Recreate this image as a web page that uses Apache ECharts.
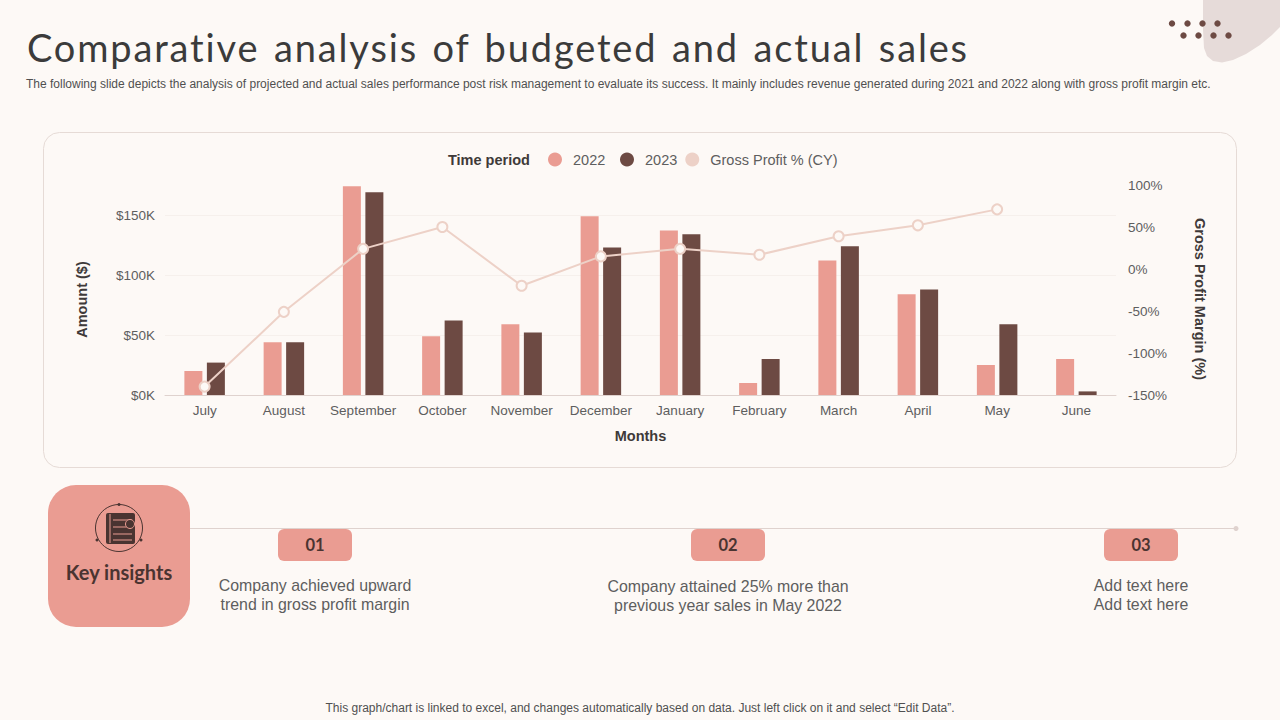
<!DOCTYPE html>
<html><head><meta charset="utf-8">
<style>html,body{margin:0;padding:0;background:#FDF9F6}#c{width:1280px;height:720px}
#t{position:absolute;left:27px;top:24px;margin:0;font:400 38px/46px Lato,sans-serif;color:#3B3B3B;letter-spacing:1.85px;word-spacing:3px;white-space:nowrap;font-variant-ligatures:none;z-index:2}</style>
<script src="https://cdn.jsdelivr.net/npm/echarts@6/dist/echarts.min.js"></script>
</head><body><h1 id="t">Comparative analysis of budgeted and actual sales</h1><div id="c"></div>
<script>
const months = ['July','August','September','October','November','December','January','February','March','April','May','June'];
const sales2022 = [20,44,174,49,59,149,137,10,112,84,25,30];
const sales2023 = [27,44,169,62,52,123,134,30,124,88,59,3];
const grossProfit = [-140,-51,24,50,-20,15,24,17,39,52,71,null];

const PINK='#EA9C92', DARK='#6D4A43', PEACH='#EDD1C7', TXT='#5E5E5E', HEAD='#3F3A39', LINE='#DFD2CE';
const SANS='"Liberation Sans",Arial,sans-serif';
const text=(x,y,t,size,o={})=>({type:'text',x,y,z:5,style:Object.assign({text:t,fontSize:size,fontFamily:SANS,fill:TXT,textAlign:'left',textVerticalAlign:'middle'},o)});
const rr=(x,y,w,h,r,o)=>({type:'rect',z:o.z||1,shape:{x,y,width:w,height:h,r},style:o});
const dot=(x,y,r,fill)=>({type:'circle',z:2,shape:{cx:x,cy:y,r},style:{fill}});
const INK='#4A3431';

const graphics=[
 {type:'polygon',z:0,shape:{points:[[1203,0],[1203,30],[1204,48],[1207,56],[1213,61],[1222,62.5],[1233,60],[1246,54],[1260,45],[1272,35],[1280,27],[1280,0]]},style:{fill:'#E6DBD9'}},
 ...[1172,1187.5,1202.5,1217.5].map(x=>dot(x,23.5,3.2,DARK)),
 ...[1183.5,1198.5,1213.5,1228.5].map(x=>dot(x,35.5,3.2,DARK)),
 text(26,84,'The following slide depicts the analysis of projected and actual sales performance post risk management to evaluate its success. It mainly includes revenue generated during 2021 and 2022 along with gross profit margin etc.',12,{fill:'#505050'}),
 rr(43.5,132.5,1193,335,16,{fill:'none',stroke:'#E6DBD6',lineWidth:1,z:0}),
 text(448,160,'Time period',14.5,{fontWeight:'bold',fill:HEAD}),
 {type:'line',z:1,shape:{x1:190,y1:528.5,x2:1236,y2:528.5},style:{stroke:LINE,lineWidth:1}},
 dot(1236,528.5,2.5,LINE),
 rr(48,485,142,142,28,{fill:PINK,z:2}),
 {type:'circle',z:3,shape:{cx:119,cy:528,r:23.5},style:{fill:'none',stroke:INK,lineWidth:1}},
 ...[[119,504.5],[97,540],[141,540]].map(([x,y])=>({type:'circle',z:3,shape:{cx:x,cy:y,r:1.5},style:{fill:INK}})),
 rr(106,513,29,31,2,{fill:INK,z:3}),
 {type:'line',z:4,shape:{x1:110,y1:514,x2:110,y2:543},style:{stroke:PINK,lineWidth:1}},
 ...[520,527,534,540].map(y=>({type:'line',z:4,shape:{x1:113,y1:y,x2:132,y2:y},style:{stroke:PINK,lineWidth:1}})),
 {type:'circle',z:5,shape:{cx:130,cy:524,r:4.5},style:{fill:INK,stroke:PINK,lineWidth:1}},
 text(119,572,'Key insights',20,{fontFamily:'Lato,sans-serif',fontWeight:'bold',fill:INK,textAlign:'center'}),
 ...[[278,'01'],[691,'02'],[1104,'03']].flatMap(([x,t])=>[
   rr(x,529,74,32,6,{fill:PINK,z:2}),
   text(x+37,544.5,t,16.5,{fontFamily:'Lato,sans-serif',fontWeight:'bold',fill:INK,textAlign:'center'})]),
 text(315,585,'Company achieved upward',15.9,{textAlign:'center'}),
 text(315,604,'trend in gross profit margin',15.9,{textAlign:'center'}),
 text(728,586,'Company attained 25% more than',15.9,{textAlign:'center'}),
 text(728,605,'previous year sales in May 2022',15.9,{textAlign:'center'}),
 text(1141,585,'Add text here',15.9,{textAlign:'center'}),
 text(1141,604,'Add text here',15.9,{textAlign:'center'}),
 text(640,708,'This graph/chart is linked to excel, and changes automatically based on data. Just left click on it and select \u201cEdit Data\u201d.',12,{textAlign:'center',fill:'#505050'})
];

const legendBase={top:152,padding:0,itemWidth:14,itemHeight:14,itemGap:8,
  textStyle:{fontSize:14.5,color:TXT,fontFamily:SANS,padding:[0,0,0,6]}};

const chart=echarts.init(document.getElementById('c'),null,{renderer:'svg'});
chart.setOption({
 animation:false,
 backgroundColor:'#FDF9F6',
 textStyle:{fontFamily:SANS},
 graphic:graphics,
 legend:[
  Object.assign({left:548,data:[{name:'2022',icon:'circle',itemStyle:{color:PINK}}]},legendBase),
  Object.assign({left:620,data:[
   {name:'2023',icon:'circle',itemStyle:{color:DARK}},
   {name:'Gross Profit % (CY)',icon:'circle',itemStyle:{color:PEACH,borderWidth:0}}
  ]},legendBase)
 ],
 grid:{left:165,right:164,top:185,bottom:325},
 xAxis:{
  type:'category',data:months,
  axisTick:{show:false},
  axisLine:{lineStyle:{color:LINE,width:1}},
  axisLabel:{color:TXT,fontSize:13.5,margin:8,interval:0},
  name:'Months',nameLocation:'middle',nameGap:33,
  nameTextStyle:{fontSize:14.5,fontWeight:'bold',color:HEAD,fontFamily:SANS}
 },
 yAxis:[{
  type:'value',min:0,max:175,interval:50,
  axisLine:{show:false},axisTick:{show:false},
  axisLabel:{color:TXT,fontSize:13.5,margin:10,showMaxLabel:false,formatter:v=>'$'+v+'K'},
  splitLine:{show:true,showMaxLine:false,lineStyle:{color:'#F6F0EC',width:1}},
  name:'Amount ($)',nameLocation:'middle',nameGap:76,nameRotate:90,
  nameTextStyle:{fontSize:14.5,fontWeight:'bold',color:HEAD,fontFamily:SANS,padding:[0,0,0,-19]}
 },{
  type:'value',min:-150,max:100,interval:50,position:'right',
  axisLine:{show:false},axisTick:{show:false},splitLine:{show:false},
  axisLabel:{color:TXT,fontSize:13.5,margin:12,formatter:v=>v+'%'},
  name:'Gross Profit Margin (%)',nameLocation:'middle',nameGap:76,nameRotate:-90,
  nameTextStyle:{fontSize:14.5,fontWeight:'bold',color:HEAD,fontFamily:SANS,padding:[0,-18,0,0]}
 }],
 series:[
  {name:'2022',type:'bar',data:sales2022,barWidth:18,barGap:'25%',itemStyle:{color:PINK}},
  {name:'2023',type:'bar',data:sales2023,barWidth:18,itemStyle:{color:DARK}},
  {name:'Gross Profit % (CY)',type:'line',yAxisIndex:1,data:grossProfit,z:5,
   symbol:'circle',symbolSize:10,showSymbol:true,
   lineStyle:{color:PEACH,width:2},
   itemStyle:{color:'#FDF9F6',borderColor:PEACH,borderWidth:2}}
 ]
});
</script></body></html>
